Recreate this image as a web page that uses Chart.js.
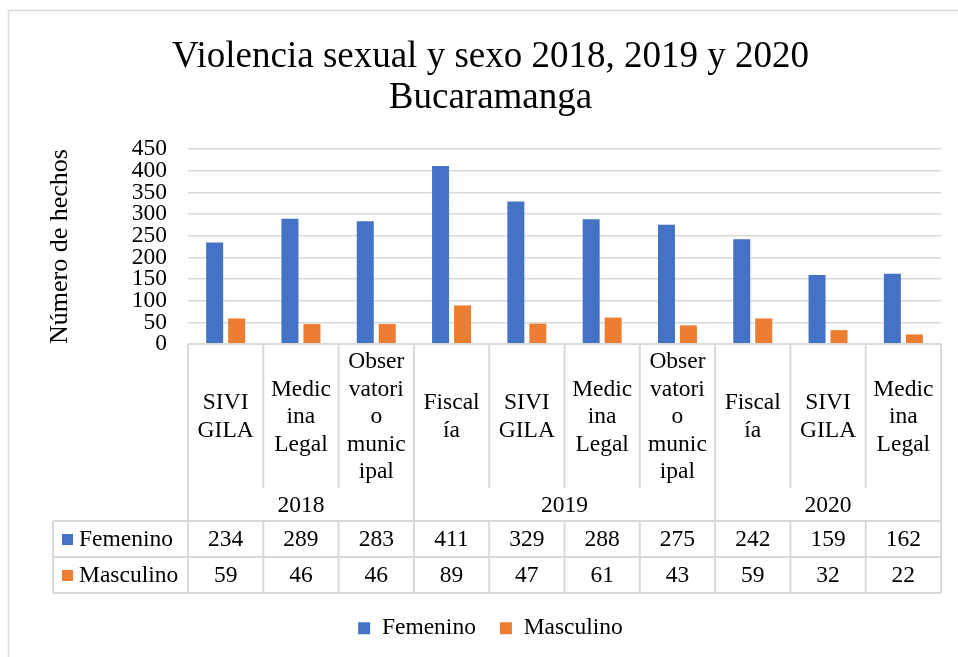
<!DOCTYPE html>
<html><head><meta charset="utf-8">
<script src="https://cdn.jsdelivr.net/npm/chart.js@4"></script>
<style>html,body{margin:0;padding:0;background:#fff;}canvas{display:block;}</style>
</head><body>
<canvas id="c" width="958" height="657"></canvas>
<script>
// ---- data ----
const chartTitle = ["Violencia sexual y sexo 2018, 2019 y 2020", "Bucaramanga"];
const yAxisTitle = "Número de hechos";
const categories = [
  ["SIVI","GILA"], ["Medic","ina","Legal"], ["Obser","vatori","o","munic","ipal"], ["Fiscal","ía"],
  ["SIVI","GILA"], ["Medic","ina","Legal"], ["Obser","vatori","o","munic","ipal"], ["Fiscal","ía"],
  ["SIVI","GILA"], ["Medic","ina","Legal"]
];
const years = ["2018", "2019", "2020"];
const yearSpans = [3, 4, 3];
const seriesNames = ["Femenino", "Masculino"];
const femenino = [234, 289, 283, 411, 329, 288, 275, 242, 159, 162];
const masculino = [59, 46, 46, 89, 47, 61, 43, 59, 32, 22];
const yMin = 0, yMax = 450, yStep = 50;

// ---- style ----
const BLUE = '#4472C4', ORANGE = '#ED7D31', GRID = '#D9D9D9';
const FONT = "'Liberation Serif', 'Times New Roman', serif";
const FS = 23.5;
Chart.defaults.font.family = FONT;
Chart.defaults.font.size = FS;
Chart.defaults.color = '#000';

const LEGEND_PAD = 24;
const TABLE = { catH: 144, yearH: 33, rowH: 36, labelLeft: 53 };

const frame = {
  id: 'frame',
  beforeDraw(chart) {
    const c = chart.ctx;
    c.save();
    c.fillStyle = '#fff';
    c.fillRect(0, 0, chart.width, chart.height);
    c.strokeStyle = GRID; c.lineWidth = 1.5;
    c.strokeRect(8.5, 10.5, chart.width + 20, chart.height + 20);
    c.restore();
  }
};

const dataTable = {
  id: 'dataTable',
  afterDraw(chart) {
    const c = chart.ctx, xs = chart.scales.x, a = chart.chartArea;
    const n = categories.length;
    const half = (xs.getPixelForValue(1) - xs.getPixelForValue(0)) / 2;
    const bx = [];
    for (let i = 0; i < n; i++) bx.push(xs.getPixelForValue(i) - half);
    bx.push(xs.getPixelForValue(n - 1) + half);
    const y0 = a.bottom;
    const yCat = y0 + TABLE.catH;
    const yYear = yCat + TABLE.yearH;
    const yF = yYear + TABLE.rowH;
    const yM = yF + TABLE.rowH;
    c.save();
    c.strokeStyle = GRID; c.lineWidth = 2;
    const line = (x1, y1, x2, y2) => { c.beginPath(); c.moveTo(x1, y1); c.lineTo(x2, y2); c.stroke(); };
    for (let i = 0; i <= n; i++) line(bx[i], y0, bx[i], yCat);
    let acc = 0;
    const gb = [0];
    yearSpans.forEach(s => { acc += s; gb.push(acc); });
    gb.forEach(g => line(bx[g], yCat, bx[g], yYear));
    line(bx[0], y0, bx[n], y0);
    line(TABLE.labelLeft, yYear, bx[n], yYear);
    line(TABLE.labelLeft, yF, bx[n], yF);
    line(TABLE.labelLeft, yM, bx[n], yM);
    line(TABLE.labelLeft, yYear, TABLE.labelLeft, yM);
    for (let i = 0; i <= n; i++) line(bx[i], yYear, bx[i], yM);

    c.fillStyle = '#000';
    c.font = FS + 'px ' + FONT;
    c.textAlign = 'center'; c.textBaseline = 'middle';
    const lh = 27.5;
    categories.forEach((lines, i) => {
      const cx = (bx[i] + bx[i + 1]) / 2;
      const cy = (y0 + yCat) / 2 + 1;
      lines.forEach((t, k) => c.fillText(t, cx, cy + (k - (lines.length - 1) / 2) * lh));
    });
    years.forEach((y, j) => {
      c.fillText(y, (bx[gb[j]] + bx[gb[j + 1]]) / 2, (yCat + yYear) / 2 + 1);
    });
    const rows = [[femenino, BLUE, yYear, yF], [masculino, ORANGE, yF, yM]];
    rows.forEach(([vals, col, t, b], r) => {
      const cy = (t + b) / 2 + 1;
      vals.forEach((v, i) => c.fillText(String(v), (bx[i] + bx[i + 1]) / 2, cy));
      c.fillStyle = col;
      c.fillRect(TABLE.labelLeft + 9, cy - 6, 11, 11);
      c.fillStyle = '#000';
      c.textAlign = 'left';
      c.fillText(seriesNames[r], TABLE.labelLeft + 26, cy);
      c.textAlign = 'center';
    });
    c.restore();
  }
};

new Chart(document.getElementById('c'), {
  type: 'bar',
  data: {
    labels: categories,
    datasets: [
      { label: seriesNames[0], data: femenino, backgroundColor: BLUE },
      { label: seriesNames[1], data: masculino, backgroundColor: ORANGE }
    ]
  },
  options: {
    responsive: false,
    animation: false,
    events: [],
    categoryPercentage: 0.584,
    barPercentage: 0.773,
    layout: { padding: { left: 40, right: 17, top: 0, bottom: 7 } },
    plugins: {
      title: {
        display: true, text: chartTitle, color: '#000',
        font: { size: 37, weight: 'normal', lineHeight: 1.1 },
        padding: { top: 37, bottom: 30.6 }
      },
      legend: {
        position: 'bottom',
        labels: { boxWidth: 12, boxHeight: 12, padding: LEGEND_PAD, font: { size: FS }, color: '#000' }
      },
      tooltip: { enabled: false }
    },
    scales: {
      x: {
        grid: { display: false }, border: { display: false },
        ticks: { display: false },
        afterFit(s) { s.height = 272.5 - LEGEND_PAD; }
      },
      y: {
        min: yMin, max: yMax,
        ticks: { stepSize: yStep, autoSkip: false, padding: 21, color: '#000', font: { size: FS, lineHeight: 0.8 } },
        grid: { color: GRID, lineWidth: 1.5, drawTicks: false },
        border: { display: false },
        title: { display: true, text: yAxisTitle, color: '#000', font: { size: 26, lineHeight: 1 }, padding: { top: 7, bottom: 0 } },
        afterFit(s) { s.width = 148; }
      }
    }
  },
  plugins: [frame, dataTable]
});
</script>
</body></html>
